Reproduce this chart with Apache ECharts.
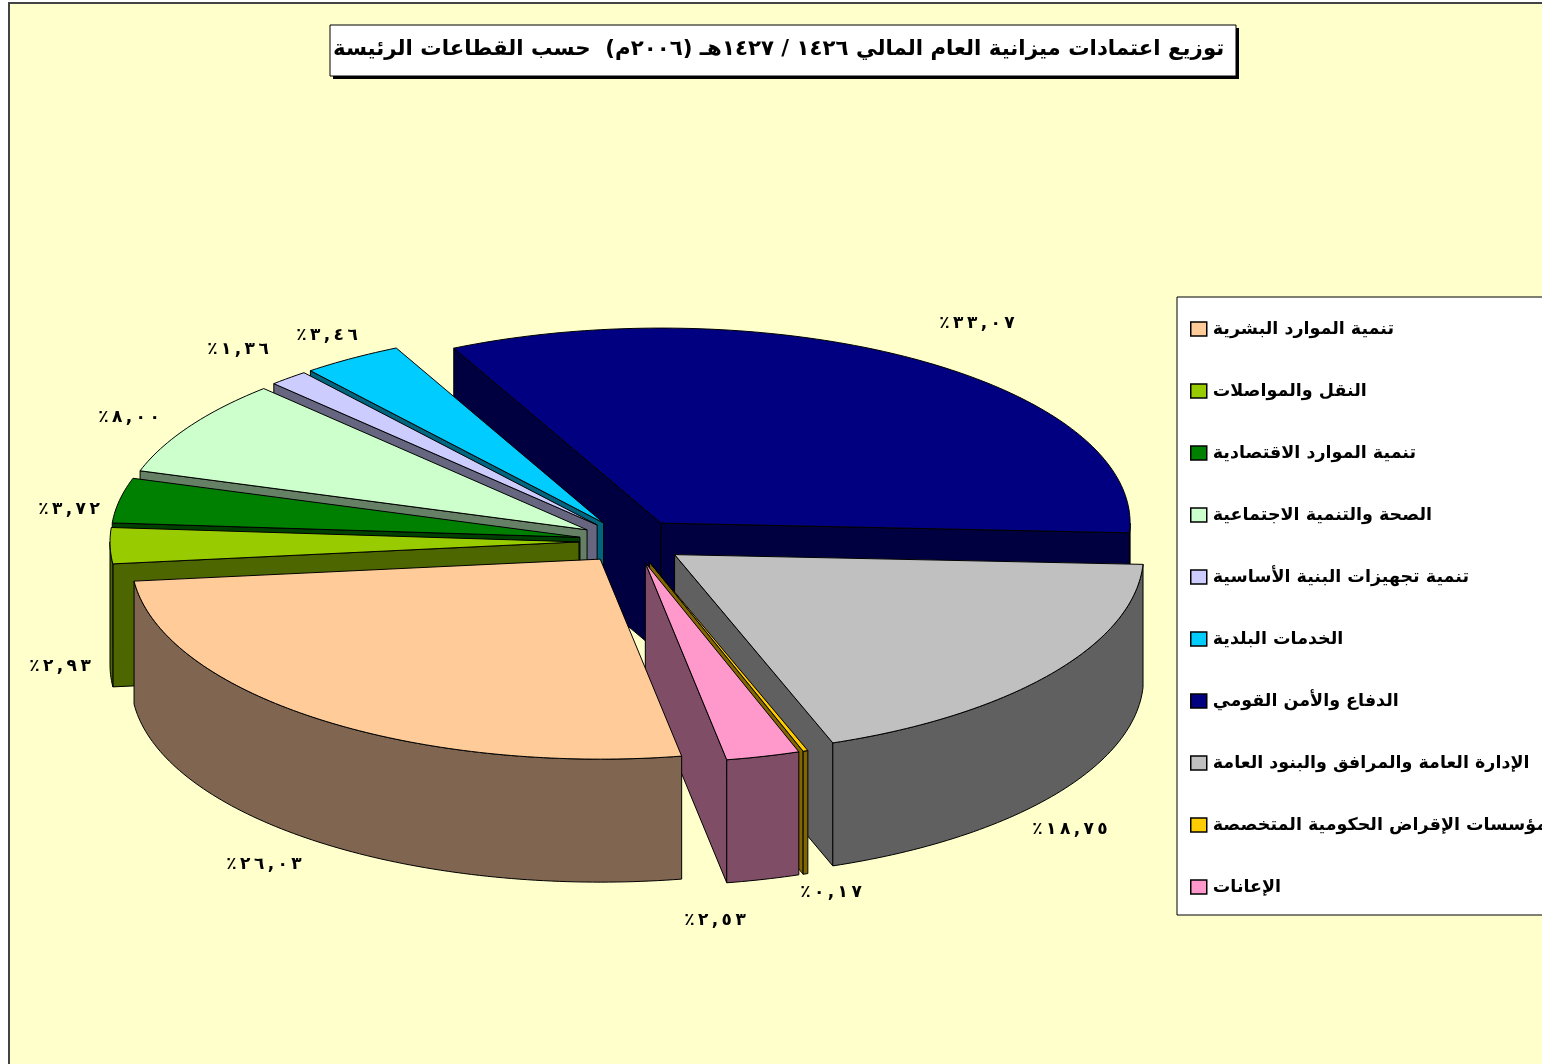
<!DOCTYPE html>
<html>
<head>
<meta charset="utf-8">
<title>توزيع اعتمادات ميزانية</title>
<style>
  html, body { margin: 0; padding: 0; background: #fff; overflow: hidden; }
  #chart { width: 1542px; height: 1064px; }
</style>
<script src="https://cdn.jsdelivr.net/npm/echarts@6/dist/echarts.min.js"></script>
</head>
<body>
<div id="chart"></div>
<script>
const chartTitle = 'توزيع اعتمادات ميزانية العام المالي ١٤٢٦ / ١٤٢٧هـ (٢٠٠٦م)  حسب القطاعات الرئيسة'
const categories = [
  'تنمية الموارد البشرية',
  'النقل والمواصلات',
  'تنمية الموارد الاقتصادية',
  'الصحة والتنمية الاجتماعية',
  'تنمية تجهيزات البنية الأساسية',
  'الخدمات البلدية',
  'الدفاع والأمن القومي',
  'الإدارة العامة والمرافق والبنود العامة',
  'مؤسسات الإقراض الحكومية المتخصصة',
  'الإعانات'
]
const shares = [26.03, 2.93, 3.72, 8.00, 1.36, 3.46, 33.07, 18.75, 0.17, 2.53]
const shareLabels = ['٢٦,٠٣', '٢,٩٣', '٣,٧٢', '٨,٠٠', '١,٣٦', '٣,٤٦', '٣٣,٠٧', '١٨,٧٥', '٠,١٧', '٢,٥٣']
const topColors = ['#FFCC99', '#99CC00', '#008000', '#CCFFCC', '#CCCCFF', '#00CCFF', '#000080', '#C0C0C0', '#FFCC00', '#FF99CC']
const wallColors = ['#806650', '#4D6600', '#004000', '#668066', '#666680', '#006680', '#000040', '#606060', '#806600', '#804D66']

// label centres, picked by eye from the original
const labelPos = [[264, 865], [60, 667], [69, 510], [129, 418], [238, 350], [327, 336], [977, 324], [1070, 830], [831, 893], [715, 921]]
// painter's order: back slices first, peach last
const drawOrder = [6, 5, 4, 3, 2, 1, 7, 8, 9, 0]
const DEFENCE = 6

// the front half of the ellipse is a little deeper, the original has some perspective
const pie = { cx: 632, cy: 541.5, rx: 469, ryBack: 195, ryFront: 200, depth: 123, depthBack: 131, explode: 0.113, start: 170 }
const total = shares.reduce((a, b) => a + b, 0)
const rad = (d) => (d * Math.PI) / 180

const ranges = []
let cursor = pie.start
shares.forEach((v) => {
  const sweep = (v / total) * 360
  ranges.push([cursor, cursor + sweep])
  cursor += sweep
})

function project(apex, deg, down) {
  const c = Math.cos(rad(deg))
  return [apex[0] + Math.sin(rad(deg)) * pie.rx, apex[1] - c * (c < 0 ? pie.ryFront : pie.ryBack) + down]
}

function arcPoints(apex, a0, a1, down) {
  const pts = []
  const steps = Math.max(1, Math.ceil(a1 - a0))
  for (let k = 0; k <= steps; k++) {
    pts.push(project(apex, a0 + ((a1 - a0) * k) / steps, down))
  }
  return pts
}

function poly(points, fill) {
  return { type: 'polygon', shape: { points }, style: { fill, stroke: '#000', lineWidth: 1 } }
}

// the original sets these labels wide; LRO keeps the order once thin spaces split the digits
function labelText(i) {
  return '\u202D' + ['٪'].concat(shareLabels[i].split('')).join('\u2009') + '\u202C'
}

function renderSlice(i) {
  const [a0, a1] = ranges[i]
  const mid = (a0 + a1) / 2
  const depth = i === DEFENCE ? pie.depthBack : pie.depth
  const apex = [
    pie.cx + Math.sin(rad(mid)) * pie.rx * pie.explode,
    pie.cy - Math.cos(rad(mid)) * pie.ryBack * pie.explode
  ]
  const apexLow = [apex[0], apex[1] + depth]
  const children = []
  const radialWall = (deg) => poly([apex, project(apex, deg, 0), project(apex, deg, depth), apexLow], wallColors[i])

  if (Math.sin(rad(a0)) < 0) children.push(radialWall(a0))
  if (Math.sin(rad(a1)) > 0) children.push(radialWall(a1))

  // outer wall: only the part of the rim that faces the viewer
  ;[0, 360].forEach((turn) => {
    const lo = Math.max(a0, 90 + turn)
    const hi = Math.min(a1, 270 + turn)
    if (lo < hi) {
      children.push(poly(arcPoints(apex, lo, hi, 0).concat(arcPoints(apex, lo, hi, depth).reverse()), wallColors[i]))
    }
  })

  children.push(poly([apex].concat(arcPoints(apex, a0, a1, 0)), topColors[i]))
  children.push({
    type: 'text',
    style: {
      text: labelText(i),
      x: labelPos[i][0],
      y: labelPos[i][1],
      fill: '#000',
      font: 'bold 17px "DejaVu Sans"',
      align: 'center',
      verticalAlign: 'middle'
    }
  })
  return { type: 'group', children }
}

const chart = echarts.init(document.getElementById('chart'))
chart.setOption({
  animation: false,
  title: {
    text: chartTitle,
    left: 333,
    top: 39,
    padding: 0,
    z: 10,
    textStyle: { fontFamily: 'DejaVu Sans', fontWeight: 'bold', fontSize: 21.3, color: '#000' }
  },
  legend: {
    data: categories,
    orient: 'vertical',
    left: 1177,
    top: 297,
    padding: [23, 30, 19, 13],
    itemGap: 44,
    itemWidth: 16,
    itemHeight: 14,
    icon: 'rect',
    selectedMode: false,
    backgroundColor: '#fff',
    borderColor: '#000',
    borderWidth: 1,
    itemStyle: { borderColor: '#000', borderWidth: 1.5 },
    textStyle: { fontFamily: 'DejaVu Sans', fontWeight: 'bold', fontSize: 17.5, color: '#000', padding: [0, 0, 0, 1] }
  },
  graphic: [
    {
      type: 'rect',
      z: -10,
      silent: true,
      shape: { x: 9, y: 3, width: 1700, height: 1200 },
      style: { fill: '#FFFFCC', stroke: '#444', lineWidth: 2 }
    },
    {
      type: 'rect',
      z: 5,
      silent: true,
      shape: { x: 333, y: 28, width: 906, height: 51 },
      style: { fill: '#000' }
    },
    {
      type: 'rect',
      z: 6,
      silent: true,
      shape: { x: 330, y: 25, width: 906, height: 51 },
      style: { fill: '#fff', stroke: '#000', lineWidth: 1 }
    }
  ],
  series: drawOrder.map((i) => ({
    type: 'custom',
    name: categories[i],
    coordinateSystem: 'none',
    itemStyle: { color: topColors[i] },
    data: [shares[i]],
    silent: true,
    renderItem: () => renderSlice(i)
  }))
})
</script>
</body>
</html>
